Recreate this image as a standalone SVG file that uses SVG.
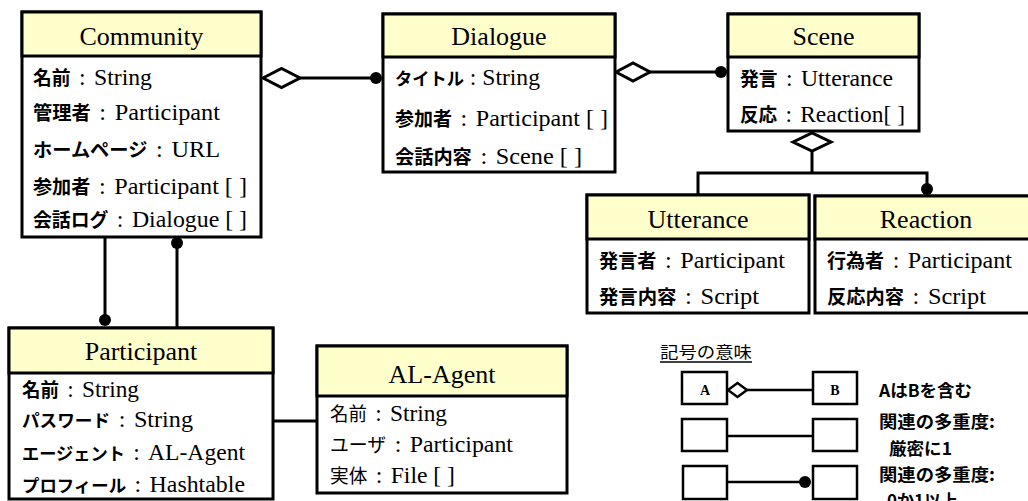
<svg xmlns="http://www.w3.org/2000/svg" width="1028" height="501" viewBox="0 0 1028 501">
<style>
.bg{fill:#fff}
.box{fill:#fff;stroke:#000;stroke-width:3}
.hdr{fill:#FFFFCC;stroke:#000;stroke-width:3}
.t{font-family:"Liberation Serif","Noto Sans CJK JP",serif;font-size:26px;text-anchor:middle;fill:#000}
.a{font-family:"Liberation Serif","Noto Sans CJK JP",serif;font-size:24px;fill:#000}
.j{font-family:"Noto Sans CJK JP",sans-serif;font-weight:700;font-size:19px}
.jn{font-family:"Noto Sans CJK JP",sans-serif;font-weight:700;font-size:17.5px}
.jr{font-family:"Noto Sans CJK JP",sans-serif;font-weight:400;font-size:19px}
.s{word-spacing:2.5px}
.ln{stroke:#000;stroke-width:3;fill:none}
.dia{fill:#fff;stroke:#000;stroke-width:3}
.dot{fill:#000}
.lbox{fill:#fff;stroke:#000;stroke-width:2.5}
.lln{stroke:#000;stroke-width:2.5;fill:none}
.lt{font-family:"Noto Sans CJK JP",sans-serif;font-weight:700;font-size:17px;fill:#000}
.lab{font-family:"Liberation Serif",serif;font-weight:700;font-size:14px;text-anchor:middle;fill:#000}
</style>
<rect class="bg" x="0" y="0" width="1028" height="501"/>

<g id="connectors">
  <polygon class="dia" points="263,78 281.5,68.5 300,78 281.5,87.5"/>
  <line class="ln" x1="300" y1="78" x2="372" y2="78"/>
  <circle class="dot" cx="376" cy="78" r="6"/>

  <polygon class="dia" points="616,72 633,63 650,72 633,81"/>
  <line class="ln" x1="650" y1="72" x2="716" y2="72"/>
  <circle class="dot" cx="721" cy="72" r="6"/>

  <polygon class="dia" points="793,142 812,133 831,142 812,151"/>
  <path class="ln" d="M812,151 V173 M698,195 V173 H927 V184"/>
  <circle class="dot" cx="927" cy="189" r="6"/>

  <line class="ln" x1="105" y1="237" x2="105" y2="315"/>
  <circle class="dot" cx="105" cy="320" r="6"/>
  <line class="ln" x1="177" y1="248" x2="177" y2="328"/>
  <circle class="dot" cx="177" cy="243" r="6"/>

  <line class="ln" x1="273" y1="421" x2="317" y2="421"/>
</g>

<g id="community">
  <rect class="box" x="22" y="12" width="239" height="225"/>
  <rect class="hdr" x="22" y="12" width="239" height="44"/>
  <text class="t" x="141.5" y="45">Community</text>
  <text class="a" x="33" y="85" textLength="119" lengthAdjust="spacingAndGlyphs"><tspan class="j">名前</tspan><tspan class="s"> : </tspan>String</text>
  <text class="a" x="33" y="120" textLength="187" lengthAdjust="spacingAndGlyphs"><tspan class="j">管理者</tspan><tspan class="s"> : </tspan>Participant</text>
  <text class="a" x="33" y="157" textLength="187" lengthAdjust="spacingAndGlyphs"><tspan class="j">ホームページ</tspan><tspan class="s"> : </tspan>URL</text>
  <text class="a" x="33" y="194" textLength="214" lengthAdjust="spacingAndGlyphs"><tspan class="j">参加者</tspan><tspan class="s"> : </tspan>Participant [ ]</text>
  <text class="a" x="33" y="227" textLength="214" lengthAdjust="spacingAndGlyphs"><tspan class="j">会話ログ</tspan><tspan class="s"> : </tspan>Dialogue [ ]</text>
</g>

<g id="dialogue">
  <rect class="box" x="383" y="14" width="232" height="158"/>
  <rect class="hdr" x="383" y="14" width="232" height="43"/>
  <text class="t" x="499" y="45">Dialogue</text>
  <text class="a" x="395" y="85" textLength="145" lengthAdjust="spacingAndGlyphs"><tspan class="jn">タイトル</tspan> : String</text>
  <text class="a" x="395" y="126" textLength="213" lengthAdjust="spacingAndGlyphs"><tspan class="j">参加者</tspan><tspan class="s"> : </tspan>Participant [ ]</text>
  <text class="a" x="395" y="164" textLength="187" lengthAdjust="spacingAndGlyphs"><tspan class="j">会話内容</tspan><tspan class="s"> : </tspan>Scene [ ]</text>
</g>

<g id="scene">
  <rect class="box" x="728" y="14" width="191" height="117"/>
  <rect class="hdr" x="728" y="14" width="191" height="43"/>
  <text class="t" x="823.5" y="45">Scene</text>
  <text class="a" x="740" y="86" textLength="153" lengthAdjust="spacingAndGlyphs"><tspan class="j">発言</tspan><tspan class="s"> : </tspan>Utterance</text>
  <text class="a" x="740" y="122" textLength="165" lengthAdjust="spacingAndGlyphs"><tspan class="j">反応</tspan><tspan class="s"> : </tspan>Reaction[ ]</text>
</g>

<g id="utterance">
  <rect class="box" x="587" y="195" width="222" height="118"/>
  <rect class="hdr" x="587" y="195" width="222" height="44"/>
  <text class="t" x="698" y="228">Utterance</text>
  <text class="a" x="599" y="268" textLength="186" lengthAdjust="spacingAndGlyphs"><tspan class="j">発言者</tspan><tspan class="s"> : </tspan>Participant</text>
  <text class="a" x="599" y="304" textLength="160" lengthAdjust="spacingAndGlyphs"><tspan class="j">発言内容</tspan><tspan class="s"> : </tspan>Script</text>
</g>

<g id="reaction">
  <rect class="box" x="815" y="196" width="225" height="117"/>
  <rect class="hdr" x="815" y="196" width="225" height="43"/>
  <text class="t" x="926" y="228">Reaction</text>
  <text class="a" x="827" y="268" textLength="185" lengthAdjust="spacingAndGlyphs"><tspan class="j">行為者</tspan><tspan class="s"> : </tspan>Participant</text>
  <text class="a" x="827" y="304" textLength="159" lengthAdjust="spacingAndGlyphs"><tspan class="j">反応内容</tspan><tspan class="s"> : </tspan>Script</text>
</g>

<g id="participant">
  <rect class="box" x="9" y="328" width="264" height="171"/>
  <rect class="hdr" x="9" y="328" width="264" height="45"/>
  <text class="t" x="141" y="360">Participant</text>
  <text class="a" x="22" y="397" textLength="117" lengthAdjust="spacingAndGlyphs"><tspan class="j">名前</tspan><tspan class="s"> : </tspan>String</text>
  <text class="a" x="22" y="427" textLength="171" lengthAdjust="spacingAndGlyphs"><tspan class="jn">パスワード</tspan><tspan class="s"> : </tspan>String</text>
  <text class="a" x="22" y="460" textLength="223" lengthAdjust="spacingAndGlyphs"><tspan class="jn">エージェント</tspan><tspan class="s"> : </tspan>AL-Agent</text>
  <text class="a" x="22" y="492" textLength="223" lengthAdjust="spacingAndGlyphs"><tspan class="jn">プロフィール</tspan><tspan class="s"> : </tspan>Hashtable</text>
</g>

<g id="al-agent">
  <rect class="box" x="317" y="346" width="250" height="147"/>
  <rect class="hdr" x="317" y="346" width="250" height="50"/>
  <text class="t" x="442" y="383">AL-Agent</text>
  <text class="a" x="330" y="421" textLength="117" lengthAdjust="spacingAndGlyphs"><tspan class="jr">名前</tspan><tspan class="s"> : </tspan>String</text>
  <text class="a" x="330" y="452" textLength="183" lengthAdjust="spacingAndGlyphs"><tspan class="jr">ユーザ</tspan><tspan class="s"> : </tspan>Participant</text>
  <text class="a" x="330" y="483" textLength="125" lengthAdjust="spacingAndGlyphs"><tspan class="jr">実体</tspan><tspan class="s"> : </tspan>File [ ]</text>
</g>

<g id="legend">
  <text x="660" y="358" textLength="92" lengthAdjust="spacingAndGlyphs" style="font-family:'Noto Sans CJK JP',sans-serif;font-size:16px;fill:#000">記号の意味</text>
  <line x1="660" y1="362" x2="752" y2="362" stroke="#000" stroke-width="1.3"/>

  <rect class="lbox" x="682" y="372" width="45" height="32"/>
  <text class="lab" x="705" y="395">A</text>
  <polygon class="lbox" points="728,390 737.5,383 747,390 737.5,397"/>
  <line class="lln" x1="747" y1="390" x2="813" y2="390"/>
  <rect class="lbox" x="813" y="372" width="44" height="32"/>
  <text class="lab" x="835" y="395">B</text>
  <text class="lt" x="879" y="397" textLength="93" lengthAdjust="spacingAndGlyphs">AはBを含む</text>

  <rect class="lbox" x="682" y="419" width="45" height="32"/>
  <line class="lln" x1="727" y1="436" x2="813" y2="436"/>
  <rect class="lbox" x="813" y="419" width="44" height="32"/>
  <text class="lt" x="879" y="428" textLength="116" lengthAdjust="spacingAndGlyphs">関連の多重度:</text>
  <text class="lt" x="889" y="455" textLength="63" lengthAdjust="spacingAndGlyphs">厳密に1</text>

  <rect class="lbox" x="683" y="466" width="44" height="33"/>
  <line class="lln" x1="727" y1="482" x2="800" y2="482"/>
  <circle class="dot" cx="805" cy="482" r="6"/>
  <rect class="lbox" x="813" y="466" width="44" height="33"/>
  <text class="lt" x="879" y="481" textLength="116" lengthAdjust="spacingAndGlyphs">関連の多重度:</text>
  <text class="lt" x="887" y="507">0か1以上</text>
</g>
</svg>
